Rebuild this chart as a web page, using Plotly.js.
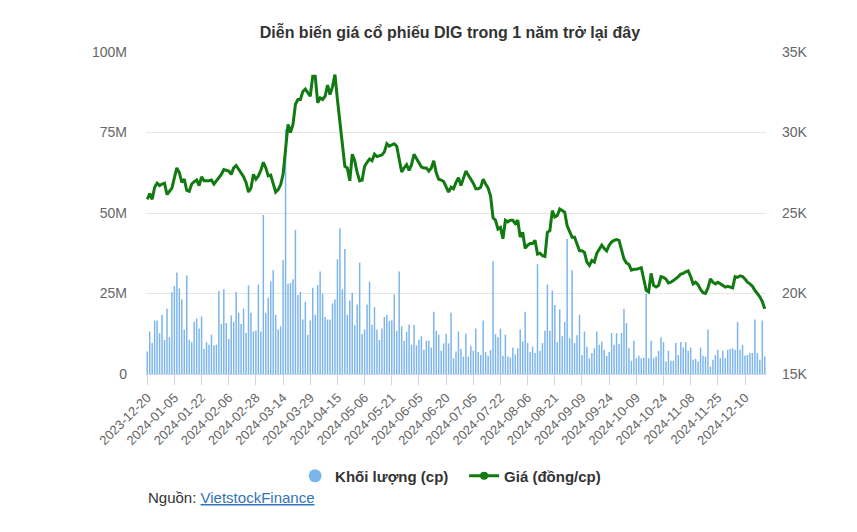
<!DOCTYPE html>
<html>
<head>
<meta charset="utf-8">
<script src="https://cdn.plot.ly/plotly-3.0.1.min.js"></script>
<style>html,body{margin:0;padding:0;background:#fff;}#chart{width:857px;height:532px;}</style>
</head>
<body>
<div id="chart"></div>
<script>
const dates = [
"2023-12-20","2023-12-21","2023-12-22","2023-12-25","2023-12-26","2023-12-27","2023-12-28","2023-12-29",
"2024-01-02","2024-01-03","2024-01-04","2024-01-05","2024-01-08","2024-01-09","2024-01-10","2024-01-11","2024-01-12","2024-01-15","2024-01-16","2024-01-17","2024-01-18","2024-01-19","2024-01-22","2024-01-23","2024-01-24","2024-01-25","2024-01-26","2024-01-29","2024-01-30","2024-01-31",
"2024-02-01","2024-02-02","2024-02-05","2024-02-06","2024-02-07","2024-02-15","2024-02-16","2024-02-19","2024-02-20","2024-02-21","2024-02-22","2024-02-23","2024-02-26","2024-02-27","2024-02-28","2024-02-29",
"2024-03-01","2024-03-04","2024-03-05","2024-03-06","2024-03-07","2024-03-08","2024-03-11","2024-03-12","2024-03-13","2024-03-14","2024-03-15","2024-03-18","2024-03-19","2024-03-20","2024-03-21","2024-03-22","2024-03-25","2024-03-26","2024-03-27","2024-03-28","2024-03-29",
"2024-04-01","2024-04-02","2024-04-03","2024-04-04","2024-04-05","2024-04-08","2024-04-09","2024-04-10","2024-04-11","2024-04-12","2024-04-15","2024-04-16","2024-04-17","2024-04-19","2024-04-22","2024-04-23","2024-04-24","2024-04-25","2024-04-26",
"2024-05-02","2024-05-03","2024-05-06","2024-05-07","2024-05-08","2024-05-09","2024-05-10","2024-05-13","2024-05-14","2024-05-15","2024-05-16","2024-05-17","2024-05-20","2024-05-21","2024-05-22","2024-05-23","2024-05-24","2024-05-27","2024-05-28","2024-05-29","2024-05-30","2024-05-31",
"2024-06-03","2024-06-04","2024-06-05","2024-06-06","2024-06-07","2024-06-10","2024-06-11","2024-06-12","2024-06-13","2024-06-14","2024-06-17","2024-06-18","2024-06-19","2024-06-20","2024-06-21","2024-06-24","2024-06-25","2024-06-26","2024-06-27","2024-06-28",
"2024-07-01","2024-07-02","2024-07-03","2024-07-04","2024-07-05","2024-07-08","2024-07-09","2024-07-10","2024-07-11","2024-07-12","2024-07-15","2024-07-16","2024-07-17","2024-07-18","2024-07-19","2024-07-22","2024-07-23","2024-07-24","2024-07-25","2024-07-26","2024-07-29","2024-07-30","2024-07-31",
"2024-08-01","2024-08-02","2024-08-05","2024-08-06","2024-08-07","2024-08-08","2024-08-09","2024-08-12","2024-08-13","2024-08-14","2024-08-15","2024-08-16","2024-08-19","2024-08-20","2024-08-21","2024-08-22","2024-08-23","2024-08-26","2024-08-27","2024-08-28","2024-08-29","2024-08-30",
"2024-09-04","2024-09-05","2024-09-06","2024-09-09","2024-09-10","2024-09-11","2024-09-12","2024-09-13","2024-09-16","2024-09-17","2024-09-18","2024-09-19","2024-09-20","2024-09-23","2024-09-24","2024-09-25","2024-09-26","2024-09-27","2024-09-30",
"2024-10-01","2024-10-02","2024-10-03","2024-10-04","2024-10-07","2024-10-08","2024-10-09","2024-10-10","2024-10-11","2024-10-14","2024-10-15","2024-10-16","2024-10-17","2024-10-18","2024-10-21","2024-10-22","2024-10-23","2024-10-24","2024-10-25","2024-10-28","2024-10-29","2024-10-30","2024-10-31",
"2024-11-01","2024-11-04","2024-11-05","2024-11-06","2024-11-07","2024-11-08","2024-11-11","2024-11-12","2024-11-13","2024-11-14","2024-11-15","2024-11-18","2024-11-19","2024-11-20","2024-11-21","2024-11-22","2024-11-25","2024-11-26","2024-11-27","2024-11-28","2024-11-29",
"2024-12-02","2024-12-03","2024-12-04","2024-12-05","2024-12-06","2024-12-09","2024-12-10","2024-12-11","2024-12-12","2024-12-13","2024-12-16","2024-12-17","2024-12-18","2024-12-19","2024-12-20"
];

// Khối lượng (triệu cp)
const volume = [
7.0,13.2,9.6,16.6,16.6,12.7,18.4,10.6,20.3,11.4,
25.4,27.3,31.5,26.6,23.1,13.8,30.6,10.6,9.9,16.2,
17.2,14.1,17.9,7.8,9.9,9.1,12.2,8.9,9.1,25.7,
15.5,26.3,15.8,10.9,18.2,16.2,25.5,19.0,15.5,20.3,
12.7,27.5,19.0,13.2,13.5,27.8,13.2,49.4,19.0,23.7,
28.7,32.2,18.4,13.8,14.8,35.3,76.0,28.0,28.3,29.4,
44.7,24.5,25.5,16.9,22.4,12.2,16.6,26.8,18.4,27.6,
31.8,24.9,17.7,16.9,16.9,21.9,23.1,35.6,45.3,26.3,
38.8,18.4,22.8,25.2,15.1,21.6,34.6,12.4,13.8,21.6,
28.7,15.3,20.8,13.8,10.6,14.1,17.7,18.4,16.4,16.6,
24.7,13.4,31.8,14.8,10.3,13.0,15.3,9.1,15.3,8.9,
10.6,11.7,7.5,10.3,10.3,8.2,19.3,13.4,12.2,7.2,
9.5,12.4,9.5,19.0,4.9,7.0,13.2,7.8,5.4,12.6,
5.4,8.8,7.2,14.1,6.8,5.9,16.6,6.8,5.7,7.5,
35.1,12.4,11.4,14.1,5.7,12.2,5.4,5.1,8.2,6.1,
8.0,13.8,10.1,19.3,9.6,6.8,8.5,6.5,34.1,7.2,
9.6,13.4,27.8,13.4,25.9,21.4,9.9,20.0,11.7,16.2,
41.9,11.1,32.2,9.6,12.0,18.4,5.9,13.2,8.5,4.9,
6.5,8.0,13.2,9.1,10.1,7.5,5.6,6.8,12.7,9.1,
12.7,9.3,12.7,20.3,15.8,8.0,4.1,10.3,4.9,5.7,
4.9,5.1,24.9,4.9,10.3,4.9,5.4,7.2,11.4,9.9,
3.9,7.2,4.1,4.1,9.6,5.9,9.9,8.2,9.9,7.2,
8.2,4.4,4.7,3.9,8.2,5.7,5.4,13.8,2.3,4.4,
5.9,7.5,4.9,7.2,4.9,7.5,7.8,8.0,7.5,16.2,
7.5,9.1,5.7,5.9,6.5,6.5,16.9,6.5,4.4,16.6,
5.4
];

// Giá (đồng/cp)
const price = [
25850,26200,25850,26600,26850,26700,26800,26850,26150,26350,
26550,27200,27800,27500,26900,27100,26400,26350,26800,26950,
27050,26700,27250,27000,27000,27000,27050,26800,27000,27200,
27400,27700,27650,27600,27400,27800,27950,27700,27500,27250,
26900,26300,26550,27400,27100,27300,27650,28150,27800,27300,
27350,26800,26300,26450,26750,27400,28800,30500,30000,30500,
31750,32050,32050,32550,32700,32450,32250,33500,33500,31850,
32150,32050,32250,32950,32350,32850,33600,32050,30700,29250,
27900,27800,27000,28650,28250,27500,27000,27050,27900,28150,
28350,28250,28650,28500,28550,28600,28800,29300,29150,29250,
29300,29150,28250,27550,27800,28000,27650,28000,28650,28350,
28150,27850,27800,27800,27600,27800,28250,27500,27100,27050,
26950,26600,26300,26600,26500,26900,27200,26700,27200,27600,
27350,27100,26850,26500,26500,26600,27100,26800,26550,26050,
24700,24550,24000,24100,23400,24550,24450,24550,24550,24350,
24550,23500,23800,22800,23000,23100,23100,23300,22450,22500,
22350,22300,23800,23900,25150,24750,24850,25250,25150,25050,
24200,23900,23500,23500,23000,22650,22650,22550,21950,21750,
22050,21950,22500,22800,23000,22800,22650,23000,23200,23300,
23350,23300,22800,22150,21900,21800,21450,21500,21500,21550,
21600,20900,20200,20100,21250,20500,20400,20500,21050,21000,
20900,20650,20700,20800,20900,21050,21200,21250,21350,21400,
21050,20600,20700,20550,20250,20050,20000,20350,20900,20700,
20600,20700,20600,20500,20400,20450,20400,20350,21050,21000,
21100,21050,20900,20700,20600,20450,20200,20000,19800,19500,
19050
];

const xTicks = ["2023-12-20","2024-01-05","2024-01-22","2024-02-06","2024-02-28","2024-03-14","2024-03-29","2024-04-15","2024-05-06","2024-05-21","2024-06-05","2024-06-20","2024-07-05","2024-07-22","2024-08-06","2024-08-21","2024-09-09","2024-09-24","2024-10-09","2024-10-24","2024-11-08","2024-11-25","2024-12-10"];
const volTicks = [0,25,50,75,100];
const volTickText = ["0","25M","50M","75M","100M"];
const priceTicks = [15000,20000,25000,30000,35000];
const priceTickText = ["15K","20K","25K","30K","35K"];

const volName = "Khối lượng (cp)";
const priceName = "Giá (đồng/cp)";
const barColor = "#7cb5ec";
const lineColor = "#117a11";

const traces = [
  {type:"bar", x:dates, y:volume, yaxis:"y", name:volName, showlegend:false,
   marker:{color:barColor}, hoverinfo:"x+y"},
  {type:"scatter", mode:"lines", x:dates, y:price, yaxis:"y2", name:priceName, showlegend:false,
   line:{color:lineColor, width:3}},
  {type:"scatter", mode:"markers", x:[null], y:[null], name:"<b>"+volName+"</b>",
   marker:{color:barColor, size:13, symbol:"circle"}},
  {type:"scatter", mode:"lines+markers", x:[null], y:[null], yaxis:"y2", name:"<b>"+priceName+"</b>",
   line:{color:lineColor, width:3}, marker:{color:lineColor, size:8}}
];

const layout = {
  width:857, height:532,
  margin:{l:146, r:91, t:52, b:158},
  paper_bgcolor:"#ffffff", plot_bgcolor:"#ffffff",
  font:{family:"Liberation Sans, Arial, sans-serif", color:"#666666", size:13},
  title:{text:"<b>Diễn biến giá cổ phiếu DIG trong 1 năm trở lại đây</b>",
    font:{size:16, color:"#333333", family:"Liberation Sans, Arial, sans-serif"},
    x:0.525, xref:"container", xanchor:"center", y:0.94, yref:"container", yanchor:"middle"},
  xaxis:{type:"category", categoryorder:"array", categoryarray:dates,
    tickmode:"array", tickvals:xTicks, ticktext:xTicks, tickangle:-45,
    ticks:"outside", ticklen:10, tickcolor:"#ccd6eb", showline:true, linecolor:"#ccd6eb",
    showgrid:false, range:[-0.5, 250.5], tickfont:{size:13, color:"#666666"}, fixedrange:true},
  yaxis:{range:[0,100], tickmode:"array", tickvals:volTicks, ticktext:volTickText,
    showgrid:true, gridcolor:"#e6e6e6", gridwidth:1, zeroline:false, showline:false,
    ticklabelstandoff:18, tickfont:{size:14, color:"#666666"}, fixedrange:true},
  yaxis2:{overlaying:"y", side:"right", range:[15000,35000], tickmode:"array",
    tickvals:priceTicks, ticktext:priceTickText, showgrid:false, zeroline:false, showline:false,
    ticklabelstandoff:15, tickfont:{size:14, color:"#666666"}, fixedrange:true},
  bargap:0.4,
  showlegend:true,
  legend:{orientation:"h", x:0.2405, xanchor:"left", y:-0.317, yanchor:"middle",
    font:{size:15, color:"#333333"}, itemwidth:30, entrywidth:124, bgcolor:"rgba(0,0,0,0)"},
  annotations:[{
    xref:"paper", yref:"paper", x:0, y:-0.382, xanchor:"left", yanchor:"middle", showarrow:false,
    text:'Nguồn: <a href="https://finance.vietstock.vn" style="color:#3173b8;text-decoration:underline">VietstockFinance</a>',
    font:{size:15, color:"#333333"}
  }]
};

Plotly.newPlot("chart", traces, layout, {displayModeBar:false, staticPlot:true});
</script>
</body>
</html>
